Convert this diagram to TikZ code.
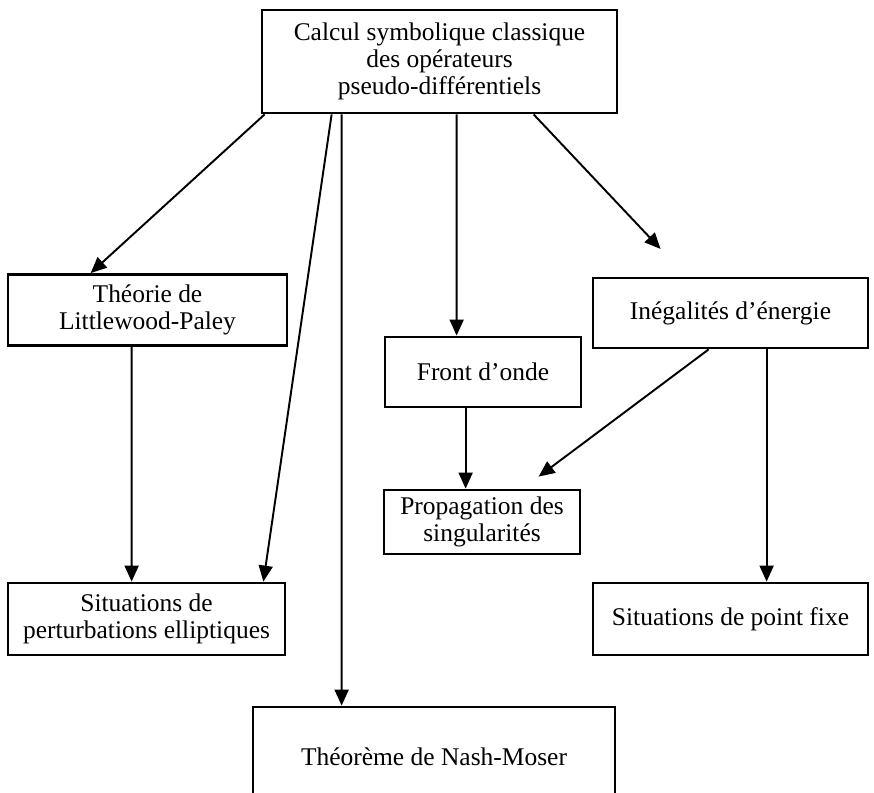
\documentclass[tikz,border=0pt]{standalone}
\usepackage{fontspec}
\setmainfont{Liberation Serif}
\usetikzlibrary{calc,arrows.meta,positioning}

\begin{document}
\begin{tikzpicture}[x=0.02cm,y=-0.02cm,
    boite/.style={draw,line width=1.6pt,align=center,inner sep=0pt,
      font=\fontsize{14.5}{15.5}\selectfont},
    fleche/.style={line width=1.1pt,-{Triangle[length=0.32cm,width=0.28cm]}}]
  \useasboundingbox (0,0) rectangle (874,793);
  \clip (0,0) rectangle (874,793);

  \node[boite,minimum width=7.1cm,minimum height=2.06cm] (calcul) at (439.5,61.5)
    {Calcul symbolique classique\\des opérateurs\\pseudo-différentiels};
  \node[boite,minimum width=5.58cm,minimum height=1.42cm] (littlewood) at (147.5,310)
    {Théorie de\\Littlewood-Paley};
  \node[boite,minimum width=3.92cm,minimum height=1.4cm] (front) at (483,372) {Front d'onde};
  \node[boite,minimum width=5.5cm,minimum height=1.4cm] (inegal) at (730.5,313) {Inégalités d'énergie};
  \node[boite,minimum width=3.92cm,minimum height=1.28cm] (propag) at (482,522)
    {Propagation des\\singularités};
  \node[boite,minimum width=5.54cm,minimum height=1.44cm] (pert) at (146.5,619)
    {Situations de\\perturbations elliptiques};
  \node[boite,minimum width=5.5cm,minimum height=1.44cm] (fixe) at (730.5,619) {Situations de point fixe};
  \node[boite,minimum width=7.24cm,minimum height=2cm] (nash) at (434,757) {Théorème de Nash-Moser};

  \draw[fleche] ($(calcul.south west)+(4,0)$) -- ($(littlewood.north west)+(84,0)$);
  \draw[fleche] ($(calcul.south west)+(71,0)$) -- ($(pert.north east)+(-23,0)$);
  \draw[fleche] ($(calcul.south west)+(81,0)$) -- ($(nash.north west)+(90,0)$);
  \draw[fleche] ($(calcul.south west)+(196,0)$) -- ($(front.north west)+(73,0)$);
  \draw[fleche,shorten >=0.76cm] ($(calcul.south west)+(273,0)$) -- ($(inegal.north west)+(95,0)$);
  \draw[fleche] ($(littlewood.south west)+(125,0)$) -- ($(pert.north west)+(125,0)$);
  \draw[fleche] ($(front.south west)+(82,0)$) -- ($(propag.north west)+(83,0)$);
  \draw[fleche,shorten >=0.4cm] ($(inegal.south west)+(117,0)$) -- ($(propag.north west)+(140,0)$);
  \draw[fleche] ($(inegal.south west)+(175,0)$) -- ($(fixe.north west)+(175,0)$);
\end{tikzpicture}
\end{document}
